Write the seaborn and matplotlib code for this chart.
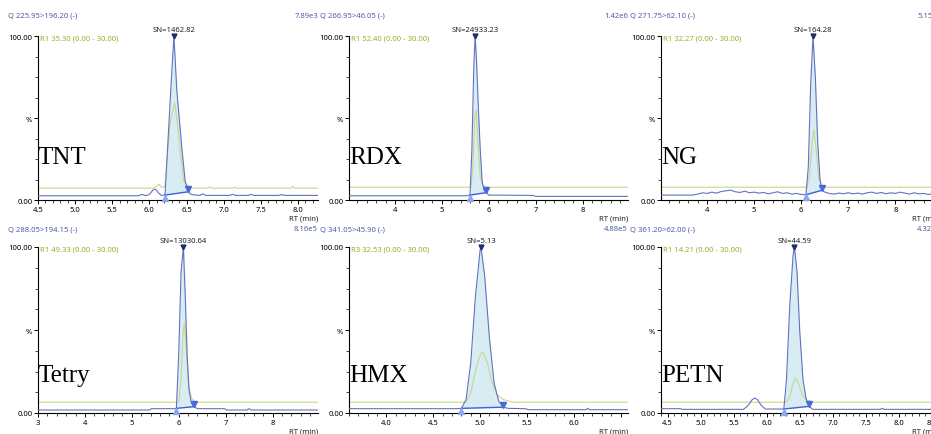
import numpy as np
import pandas as pd
import matplotlib
matplotlib.use('Agg')
import matplotlib.pyplot as plt
import matplotlib.transforms as mtransforms
from matplotlib.ticker import MultipleLocator
import seaborn as sns

sns.set_theme(style='ticks')
plt.rcParams['font.family'] = ['Noto Sans', 'DejaVu Sans']

# ---- data ----
names = ['TNT', 'RDX', 'NG', 'Tetry', 'HMX', 'PETN']
channels = ['Q 225.95>196.20 (-)', 'Q 266.95>46.05 (-)', 'Q 271.75>62.10 (-)',
            'Q 288.05>194.15 (-)', 'Q 341.05>45.90 (-)', 'Q 361.20>62.00 (-)']
max_counts = ['7.89e3', '1.42e6', '5.15e5', '8.16e5', '4.88e5', '4.32e5']
ratios = ['R1 35.30 (0.00 - 30.00)', 'R1 52.40 (0.00 - 30.00)', 'R1 32.27 (0.00 - 30.00)',
          'R1 49.33 (0.00 - 30.00)', 'R3 32.53 (0.00 - 30.00)', 'R1 14.21 (0.00 - 30.00)']
sn_values = ['SN=1462.82', 'SN=24933.23', 'SN=164.28', 'SN=13030.64', 'SN=5.13', 'SN=44.59']
x_ranges = [(4.5, 8.27), (3.02, 8.97), (3.02, 8.97), (3.0, 8.97), (3.6, 6.58), (4.4, 8.64)]
x_major = [0.5, 1.0, 1.0, 1.0, 0.5, 0.5]
x_minor = [0.1, 0.2, 0.2, 0.2, 0.1, 0.1]
x_last_label = [8.0, 8.0, 8.0, 8.0, 6.0, 8.5]
peak_start = [6.21, 5.60, 6.10, 5.95, 4.80, 6.26]
peak_apex = [6.33, 5.71, 6.25, 6.10, 5.01, 6.42]
peak_end = [6.52, 5.95, 6.45, 6.32, 5.25, 6.64]

tnt_rt = [4.5, 5.85, 5.9, 5.95, 6.0, 6.05, 6.08, 6.12, 6.16, 6.21, 6.25, 6.30, 6.33, 6.37,
          6.44, 6.48, 6.52, 6.56, 6.62, 6.68, 6.72, 6.76, 7.08, 7.12, 7.16, 7.33, 7.37, 7.41,
          7.74, 7.78, 7.82, 8.27]
tnt_int = [2.6, 2.6, 3.4, 2.6, 3.4, 6.2, 6.6, 4.5, 2.8, 3.0, 36, 77, 100, 66,
           30, 12, 5, 3.5, 3.0, 2.8, 3.8, 2.8, 2.8, 3.5, 2.8, 2.8, 3.4, 2.8,
           2.8, 3.3, 2.8, 2.8]
tnt_g_rt = [4.5, 6.05, 6.10, 6.13, 6.17, 6.21, 6.24, 6.28, 6.34, 6.38, 6.42, 6.46, 6.49,
            6.53, 6.6, 6.78, 6.81, 6.84, 7.12, 7.15, 7.18, 7.90, 7.93, 7.96, 8.27]
tnt_g_int = [7.2, 7.2, 8.5, 9.6, 7.6, 8.5, 25, 48, 59, 46, 27, 12, 10, 7.8, 7.2,
             7.2, 8.0, 7.2, 7.2, 7.8, 7.2, 7.2, 8.2, 7.2, 7.2]

rdx_rt = [3.0, 5.55, 5.60, 5.64, 5.68, 5.71, 5.74, 5.78, 5.82, 5.86, 5.90, 5.95, 6.0,
          6.95, 7.0, 9.0]
rdx_int = [2.6, 2.6, 3.0, 30, 80, 100, 85, 55, 30, 11, 6, 4.5, 3.0,
           2.8, 2.2, 2.2]
rdx_g_rt = [3.0, 5.62, 5.66, 5.70, 5.73, 5.77, 5.82, 5.88, 5.95, 9.0]
rdx_g_int = [7.8, 7.8, 20, 50, 55, 35, 14, 9, 7.8, 7.8]

ng_rt = [3.0, 3.7, 3.8, 3.9, 4.0, 4.1, 4.2, 4.3, 4.4, 4.5, 4.6, 4.7, 4.8, 4.9, 5.0, 5.1,
         5.2, 5.3, 5.4, 5.5, 5.6, 5.7, 5.8, 5.9, 6.0, 6.10, 6.15, 6.20, 6.25, 6.30, 6.35,
         6.40, 6.45, 6.5, 6.6, 6.7, 6.8, 6.9, 7.0, 7.1, 7.2, 7.3, 7.4, 7.5, 7.6, 7.7, 7.8,
         7.9, 8.0, 8.1, 8.2, 8.3, 8.4, 8.5, 8.6, 8.7, 8.8, 8.9, 9.0]
ng_int = [3.0, 3.0, 3.6, 4.4, 4.0, 4.8, 4.2, 5.2, 5.6, 6.0, 5.0, 4.6, 5.4, 4.4, 4.8, 4.2,
          4.6, 3.8, 4.4, 5.0, 4.0, 4.4, 3.6, 4.0, 3.4, 3.2, 20, 70, 100, 75, 35,
          12, 6, 4.8, 4.0, 3.6, 4.2, 3.8, 4.4, 3.8, 4.2, 3.6, 4.4, 4.8, 4.0, 4.6, 3.8,
          4.4, 4.0, 4.8, 4.2, 3.6, 4.4, 3.8, 4.0, 3.4, 3.8, 3.4, 3.6]
ng_g_rt = [3.0, 6.12, 6.18, 6.23, 6.27, 6.32, 6.37, 6.43, 6.5, 9.0]
ng_g_int = [7.8, 7.8, 15, 35, 43, 30, 14, 9, 7.8, 7.8]

tetry_rt = [3.0, 5.38, 5.42, 5.90, 5.95, 6.00, 6.05, 6.10, 6.14, 6.18, 6.22, 6.27, 6.32,
            6.40, 6.98, 7.02, 7.45, 7.50, 7.55, 9.0]
tetry_int = [1.8, 1.8, 2.6, 2.6, 2.8, 35, 85, 100, 70, 35, 14, 6, 3.8,
             2.6, 2.6, 1.8, 1.8, 2.6, 1.8, 1.8]
tetry_g_rt = [3.0, 6.0, 6.05, 6.09, 6.12, 6.16, 6.21, 6.27, 6.35, 9.0]
tetry_g_int = [6.5, 6.5, 20, 48, 54, 38, 17, 9, 6.5, 6.5]

hmx_rt = [3.6, 4.75, 4.80, 4.85, 4.90, 4.95, 5.00, 5.01, 5.05, 5.10, 5.15, 5.20, 5.25,
          5.30, 5.48, 5.52, 6.13, 6.15, 6.17, 6.58]
hmx_int = [2.6, 2.6, 2.8, 8, 30, 70, 98, 100, 82, 45, 18, 7, 3.5,
           2.8, 2.6, 2.0, 2.0, 2.8, 2.0, 2.0]
hmx_g_rt = [3.6, 4.85, 4.90, 4.95, 5.00, 5.03, 5.08, 5.13, 5.18, 5.25, 5.35, 6.58]
hmx_g_int = [6.5, 6.5, 12, 25, 35, 37, 30, 18, 11, 8, 6.5, 6.5]

petn_rt = [4.4, 4.7, 4.72, 5.65, 5.72, 5.78, 5.82, 5.86, 5.92, 5.98, 6.26, 6.30, 6.35,
           6.40, 6.42, 6.46, 6.50, 6.55, 6.60, 6.64, 6.70, 7.72, 7.75, 7.78, 8.64]
petn_int = [2.6, 2.6, 2.2, 2.2, 4.5, 8, 9, 8, 4.5, 2.4, 2.4, 20, 65,
            95, 100, 85, 50, 20, 8, 4.0, 2.2, 2.2, 2.8, 2.2, 2.2]
petn_g_rt = [4.4, 6.30, 6.35, 6.40, 6.44, 6.48, 6.54, 6.60, 6.70, 8.64]
petn_g_int = [6.5, 6.5, 10, 18, 21, 18, 11, 8, 6.5, 6.5]

traces = [(tnt_rt, tnt_int, tnt_g_rt, tnt_g_int),
          (rdx_rt, rdx_int, rdx_g_rt, rdx_g_int),
          (ng_rt, ng_int, ng_g_rt, ng_g_int),
          (tetry_rt, tetry_int, tetry_g_rt, tetry_g_int),
          (hmx_rt, hmx_int, hmx_g_rt, hmx_g_int),
          (petn_rt, petn_int, petn_g_rt, petn_g_int)]

# colours
BLUE = '#6272c0'
GREEN = '#c9d68a'
GREEN_TXT = '#9aae2c'
HEAD = '#4d5ea6'
FILL = '#d8ecf4'
BASE = '#3f5fe0'

W, H = 931, 435
fig = plt.figure(figsize=(W / 100, H / 100), dpi=100)

cols = [(38, 318), (349, 628), (661, 941)]
rows = [(37, 201), (248, 414)]
head_x = [8, 320, 630]
head_y = [16, 230]
label_y = [0.26, 0.23]

FS = 5.5

for i in range(6):
    r, c = divmod(i, 3)
    x0, x1 = cols[c]
    top, bot = rows[r]
    ax = fig.add_axes([x0 / W, 1 - bot / H, (x1 - x0) / W, (bot - top) / H])
    rt, inten, grt, gint = traces[i]
    df = pd.DataFrame({'rt': rt, 'int': inten})
    dg = pd.DataFrame({'rt': grt, 'int': gint})

    # integrated area between trace and drawn baseline
    rt_a = np.array(rt)
    in_a = np.array(inten)
    s, e = peak_start[i], peak_end[i]
    ys = in_a[np.argmin(abs(rt_a - s))]
    ye = in_a[np.argmin(abs(rt_a - e))]
    m = (rt_a >= s - 1e-9) & (rt_a <= e + 1e-9)
    base = ys + (rt_a[m] - s) * (ye - ys) / (e - s)
    ax.fill_between(rt_a[m], base, in_a[m], color=FILL, lw=0, zorder=1)

    sns.lineplot(data=dg, x='rt', y='int', ax=ax, color=GREEN, lw=0.8,
                 estimator=None, zorder=2)
    sns.lineplot(data=df, x='rt', y='int', ax=ax, color=BLUE, lw=0.8,
                 estimator=None, zorder=3)
    ax.plot([s, e], [ys, ye], color=BASE, lw=1.0, zorder=4)

    down = mtransforms.offset_copy(ax.transData, fig=fig, x=0, y=-2.5, units='dots')
    up = mtransforms.offset_copy(ax.transData, fig=fig, x=0, y=2.5, units='dots')
    ax.plot([s], [ys], marker='^', ms=4.5, color='#8ea6f2', transform=down,
            clip_on=False, zorder=5)
    ax.plot([e], [ye], marker='v', ms=4.5, color='#4a68dc', transform=up,
            clip_on=False, zorder=5)
    ax.plot([peak_apex[i]], [in_a.max()], marker='v', ms=3.5, color='#1f2d6e',
            clip_on=False, zorder=5)

    ax.set_xlim(*x_ranges[i])
    ax.set_ylim(0, 100)
    ax.xaxis.set_major_locator(MultipleLocator(x_major[i]))
    ax.xaxis.set_minor_locator(MultipleLocator(x_minor[i]))
    fmt = '%.1f' if x_major[i] == 0.5 else '%d'
    last = x_last_label[i]
    ax.xaxis.set_major_formatter(
        plt.FuncFormatter(lambda v, p, fmt=fmt, last=last: fmt % v if v <= last + 1e-6 else ''))
    ax.set_yticks([0, 50, 100])
    ax.set_yticklabels(['0.00', '%', '100.00'])
    ax.yaxis.set_minor_locator(MultipleLocator(12.5))
    ax.tick_params(axis='both', which='major', length=3, width=0.7, pad=1,
                   labelsize=FS, colors='black')
    ax.tick_params(axis='both', which='minor', length=2, width=0.6)
    ax.set_xlabel('')
    ax.set_ylabel('')
    for sp in ['top', 'right']:
        ax.spines[sp].set_visible(False)
    for sp in ['left', 'bottom']:
        ax.spines[sp].set_linewidth(0.8)
        ax.spines[sp].set_color('black')
    ax.set_facecolor('white')

    ax.text(1.0, -0.11, 'RT (min)', transform=ax.transAxes, ha='right', va='center',
            fontsize=FS)
    ax.text(0.008, 0.985, ratios[i], transform=ax.transAxes, ha='left', va='center',
            fontsize=FS, color=GREEN_TXT)
    ax.text(0.0, label_y[r], names[i], transform=ax.transAxes, ha='left', va='center',
            fontsize=18, family='Liberation Serif', color='black')
    sn_tr = mtransforms.blended_transform_factory(ax.transData, ax.transAxes)
    ax.text(peak_apex[i], 1.04, sn_values[i], transform=sn_tr, ha='center',
            va='center', fontsize=FS, color='#222222', clip_on=False)

    fig.text(head_x[c] / W, 1 - head_y[r] / H, channels[i], ha='left', va='center',
             fontsize=FS, color=HEAD)
    fig.text(x1 / W, 1 - head_y[r] / H, max_counts[i],
             ha='right', va='center', fontsize=FS, color=HEAD)

fig.savefig('out.png', dpi=100, facecolor='white')
